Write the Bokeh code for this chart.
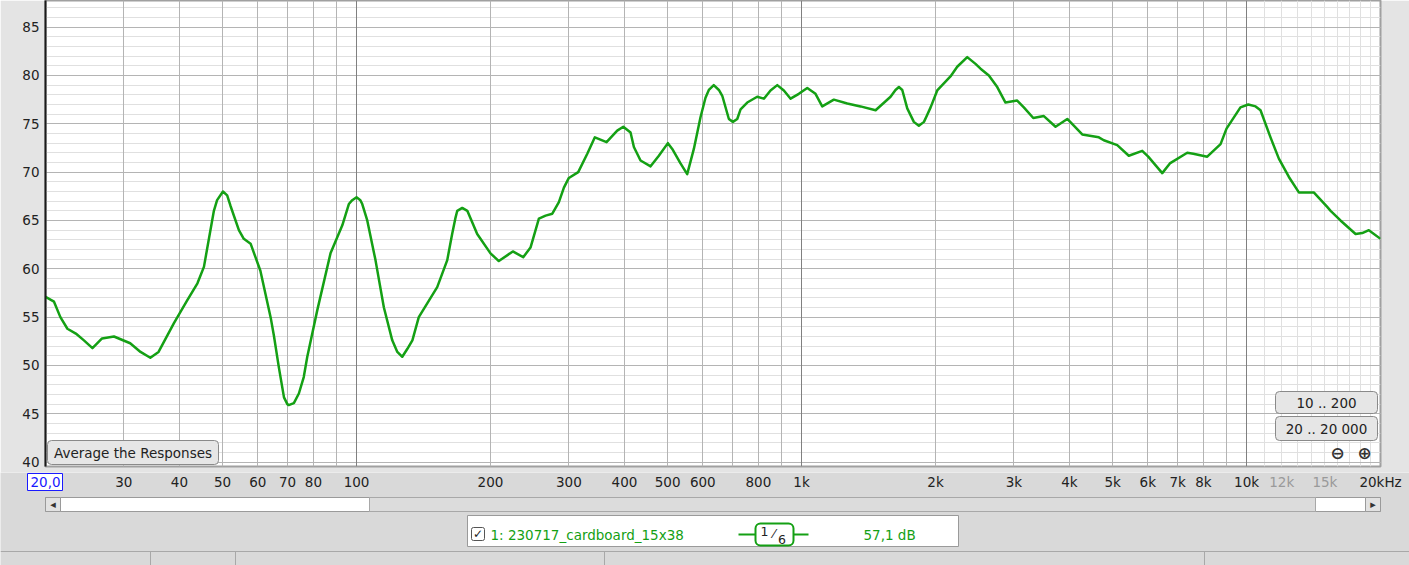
import math
from bokeh.plotting import figure
from bokeh.models import Range1d, FixedTicker, Grid, Label, BoxAnnotation, ColumnDataSource
from bokeh.layouts import column
from bokeh.core.properties import value
from bokeh.embed import file_html
from bokeh.resources import INLINE

# ---------------- data ----------------
freq = [20.0, 20.9, 21.6, 22.4, 23.4, 24.4, 25.5, 26.8, 28.5, 31.0, 32.7, 34.4, 35.9, 38.9,
        41.6, 43.9, 45.4, 47.8, 48.6, 50.1, 51.2, 52.1, 54.4, 55.8, 57.8, 60.8, 64.1, 65.2,
        66.9, 68.7, 69.9, 70.4, 72.3, 74.2, 76.1, 77.5, 81.6, 87.4, 92.9, 96.1, 97.8, 100,
        102, 103, 105.7, 110.3, 115.2, 120.3, 123.5, 126.7, 130, 133.5, 138, 151.8, 159.9,
        164, 166.9, 168.4, 172.8, 177.4, 186.7, 200, 208.8, 224.5, 236.9, 246, 256.9, 266,
        275.4, 284.9, 292.4, 300, 314.9, 330, 343.2, 364.6, 385.3, 397.6, 412.8, 420, 434.7,
        457.9, 477.9, 500.8, 512.2, 534.6, 553.4, 572.8, 593, 608.4, 619, 635, 652, 663.5,
        686.6, 700.9, 717, 729.4, 755, 795, 823, 851.7, 882, 912.6, 945, 986, 1030, 1075,
        1113, 1182, 1267, 1357, 1467, 1585, 1626, 1655, 1684, 1728, 1788, 1835, 1884, 1911,
        1950, 2018, 2161, 2238, 2357, 2460, 2525, 2636, 2753, 2873, 3052, 3159, 3317, 3504,
        3722, 3955, 4091, 4273, 4657, 4778, 5122, 5438, 5829, 6013, 6465, 6725, 7358, 7591,
        8160, 8742, 9016, 9690, 10090, 10480, 10750, 11320, 11820, 12450, 13110, 14160,
        15180, 15450, 16260, 17580, 18200, 18830, 20000]
spl_db = [57.1, 56.6, 55.0, 53.8, 53.3, 52.6, 51.8, 52.8, 53.0, 52.3, 51.4, 50.8, 51.4, 54.4,
          56.7, 58.5, 60.2, 66.0, 67.1, 68.0, 67.6, 66.5, 64.0, 63.1, 62.6, 59.8, 55.0, 53.1,
          49.8, 46.7, 46.0, 45.9, 46.1, 47.1, 48.8, 50.9, 55.7, 61.6, 64.5, 66.7, 67.1, 67.4,
          67.1, 66.7, 65.0, 60.9, 56.0, 52.6, 51.4, 50.9, 51.7, 52.6, 55.0, 58.1, 60.9,
          63.6, 65.3, 66.0, 66.3, 66.0, 63.6, 61.6, 60.8, 61.8, 61.2, 62.2, 65.2, 65.5,
          65.7, 66.9, 68.4, 69.4, 70.0, 71.9, 73.6, 73.1, 74.3, 74.7, 74.1, 72.6, 71.2,
          70.6, 71.7, 73.0, 72.4, 70.9, 69.8, 72.4, 75.7, 77.7, 78.5, 79.0, 78.5, 77.9,
          75.5, 75.2, 75.5, 76.5, 77.2, 77.8, 77.6, 78.45, 79.0, 78.45, 77.6, 78.1, 78.7, 78.1,
          76.8, 77.5, 77.1, 76.8, 76.4, 77.8, 78.5, 78.8, 78.5, 76.6, 75.2, 74.8, 75.2, 75.8,
          76.7, 78.45, 79.9, 80.9, 81.9, 81.2, 80.7, 80.0, 78.8, 77.2, 77.4, 76.7, 75.6, 75.8,
          74.7, 75.5, 74.8, 73.9, 73.6, 73.3, 72.8, 71.7, 72.2, 71.6, 69.9, 70.9, 72.0, 71.9,
          71.6, 72.9, 74.5, 76.7, 77.0, 76.8, 76.4, 73.6, 71.4, 69.5, 67.9, 67.9,
          66.4, 66.0, 65.0, 63.6, 63.7, 64.0, 63.1]

x_tick_values = [20, 30, 40, 50, 60, 70, 80, 100, 200, 300, 400, 500, 600, 800, 1000,
                 2000, 3000, 4000, 5000, 6000, 7000, 8000, 10000, 12000, 15000, 20000]
x_tick_labels = ["20,0", "30", "40", "50", "60", "70", "80", "100", "200", "300", "400",
                 "500", "600", "800", "1k", "2k", "3k", "4k", "5k", "6k", "7k", "8k", "10k",
                 "12k", "15k", "20kHz"]
y_tick_values = [40, 45, 50, 55, 60, 65, 70, 75, 80, 85]

grid_mid_freqs = [30, 40, 50, 60, 70, 80, 90, 200, 300, 400, 500, 600, 700, 800, 900,
                  2000, 3000, 4000, 5000, 6000, 7000, 8000, 9000]
grid_decades = [100, 1000, 10000]
grid_fine_freqs = [11000, 12000, 13000, 14000, 15000, 16000, 17000, 18000, 19000]
grid_db_minor = list(range(40, 89))

trace_name = "1: 230717_cardboard_15x38"
trace_level = "57,1 dB"

# ---------------- style ----------------
FONT = "DejaVu Sans"
FS = "13.5px"
GREEN = "#14a014"
BG = "#d9d9d9"
SIDE = "#e4e4e4"

W, H = 1409, 565
FRAME_L, FRAME_R, FRAME_B = 45, 1380, 466
PAD_B = 6
PX_PER_DEC = 445.0
PX_PER_DB = 9.667
Y0 = 39.55
Y1 = Y0 + FRAME_B / PX_PER_DB


def fx(px):  # page pixel -> frequency (same log scale as the chart)
    return 20 * 10 ** ((px - FRAME_L) / PX_PER_DEC)


def fy(py):  # page pixel -> dB
    return Y0 + (FRAME_B - py) / PX_PER_DB


p = figure(x_axis_type="log", x_range=Range1d(20, 20000), y_range=Range1d(Y0, Y1),
           frame_width=FRAME_R - FRAME_L, frame_height=FRAME_B, output_backend="svg",
           toolbar_location=None, x_axis_location=None,
           min_border_left=FRAME_L, min_border_right=W - FRAME_R, min_border_top=0,
           min_border_bottom=PAD_B)
p.frame_align = False
p.background_fill_color = "white"
p.border_fill_color = SIDE
p.outline_line_color = "#a0a0a0"
p.outline_line_width = 2
p.grid.visible = False


def add_grid(dim, ticks, color):
    p.add_layout(Grid(dimension=dim, ticker=FixedTicker(ticks=ticks),
                      grid_line_color=color, grid_line_width=1))


add_grid(1, grid_db_minor, "#e0e0e0")
add_grid(0, grid_fine_freqs, "#e0e0e0")
add_grid(1, y_tick_values, "#b4b4b4")
add_grid(0, grid_mid_freqs, "#b4b4b4")
add_grid(0, grid_decades, "#808080")

ya = p.yaxis[0]
ya.ticker = FixedTicker(ticks=y_tick_values)
ya.major_label_text_font = FONT
ya.major_label_text_font_size = FS
ya.major_label_text_color = "#222222"
ya.major_tick_line_color = None
ya.major_tick_out = 0
ya.major_tick_in = 0
ya.minor_tick_line_color = None
ya.minor_tick_out = 0
ya.axis_line_color = "#1a1a1a"
ya.axis_line_width = 2
ya.major_label_standoff = 6

# the measurement trace
p.line(freq, spl_db, line_color=GREEN, line_width=2.5, line_join="round")


def button(x0, x1, y0, y1, text):
    p.add_layout(BoxAnnotation(left=fx(x0), right=fx(x1), top=fy(y0), bottom=fy(y1),
                               fill_color="#e6e6e6", fill_alpha=1.0, line_color="#8a8a8a",
                               line_alpha=1.0, line_width=1, border_radius=4))
    p.add_layout(Label(x=fx((x0 + x1) / 2), y=fy((y0 + y1) / 2 + 0.5), text=text,
                       text_align="center", text_baseline="middle", text_font=FONT,
                       text_font_size=FS, text_color="#222222"))


button(47, 218, 440, 464, "Average the Responses")
button(1275, 1377, 391, 413, "10 .. 200")
button(1275, 1377, 416, 440, "20 .. 20 000")
for px, sym in [(1337, "⊖"), (1364, "⊕")]:
    p.add_layout(Label(x=fx(px), y=fy(452), text=sym, text_align="center",
                       text_baseline="middle", text_font=FONT, text_font_size="17px",
                       text_font_style="bold", text_color="#333333"))

# ---------------- bottom panel: tick labels, scrollbar, legend, status bar ----------------
QTOP = FRAME_B + PAD_B
QH = H - QTOP
q = figure(width=W, height=QH, x_axis_type="log", x_range=Range1d(fx(0), fx(W)),
           y_range=Range1d(QH, 0), output_backend="svg", toolbar_location=None,
           x_axis_location=None, y_axis_location=None, min_border=0)
q.frame_align = False
q.outline_line_color = None
q.background_fill_color = BG
q.border_fill_color = BG
q.grid.visible = False


def T(py):
    return py - QTOP


# x tick labels (same log scale as the chart)
colors = []
for t in x_tick_values:
    if t == 20:
        colors.append("#1a1aff")
    elif t in (12000, 15000):
        colors.append("#9a9a9a")
    else:
        colors.append("#222222")
q.quad(left=[fx(27)], right=[fx(62)], top=[T(473)], bottom=[T(490)], fill_color="white",
       line_color="#1a1aff", line_width=1)
tick_src = ColumnDataSource(dict(x=x_tick_values, y=[T(481.5)] * len(x_tick_values),
                                 text=x_tick_labels, color=colors))
q.text(x="x", y="y", text="text", text_color="color", source=tick_src, text_align="center",
       text_baseline="middle", text_font=value(FONT), text_font_size=value(FS))

# scrollbar
q.quad(left=[fx(45)], right=[fx(1380)], top=[T(497)], bottom=[T(511)], fill_color="white",
       line_color="#9a9a9a")
q.quad(left=[fx(369)], right=[fx(1315)], top=[T(497)], bottom=[T(511)], fill_color="#dcdcdc",
       line_color="#a8a8a8")
q.quad(left=[fx(45), fx(1365)], right=[fx(60), fx(1380)], top=[T(497)] * 2,
       bottom=[T(511)] * 2, fill_color="#e2e2e2", line_color="#9a9a9a")
q.text(x=[fx(52.5), fx(1372.5)], y=[T(504)] * 2, text=["◂", "▸"], text_align="center",
       text_baseline="middle", text_font=value(FONT), text_font_size="11px", text_color="#333333")

# legend box
q.quad(left=[fx(467)], right=[fx(958)], top=[T(515)], bottom=[T(546)], fill_color="white",
       line_color="#9a9a9a")
q.quad(left=[fx(471)], right=[fx(484)], top=[T(527)], bottom=[T(540)], fill_color="white",
       line_color="#555555", border_radius=2)
q.text(x=[fx(477.5)], y=[T(533.5)], text=["✓"], text_align="center", text_baseline="middle",
       text_font=value(FONT), text_font_size="12px", text_font_style="bold", text_color="#222222")
q.text(x=[fx(490)], y=[T(534)], text=[trace_name], text_align="left", text_baseline="middle",
       text_font=value(FONT), text_font_size=value(FS), text_color=GREEN)
q.segment(x0=[fx(738)], y0=[T(534)], x1=[fx(808)], y1=[T(534)], line_color=GREEN, line_width=2)
q.quad(left=[fx(755)], right=[fx(793)], top=[T(523)], bottom=[T(545)], fill_color="white",
       line_color=GREEN, line_width=2, border_radius=5)
q.text(x=[fx(764), fx(773.5), fx(781.5)], y=[T(531), T(533), T(538.5)], text=["1", "⁄", "6"],
       text_align="center", text_baseline="middle", text_font=value(FONT),
       text_font_size="12.5px", text_color="#222222")
q.text(x=[fx(863)], y=[T(534)], text=[trace_level], text_align="left", text_baseline="middle",
       text_font=value(FONT), text_font_size=value(FS), text_color=GREEN)

# status bar
q.segment(x0=[fx(0)], y0=[T(551)], x1=[fx(W)], y1=[T(551)], line_color="#a8a8a8", line_width=1)
sep = [150, 235, 604, 1204]
q.segment(x0=[fx(v) for v in sep], y0=[T(551)] * 4, x1=[fx(v) for v in sep], y1=[QH] * 4,
          line_color="#a8a8a8")

layout = column(p, q, spacing=0)
open("out.html", "w").write(file_html(layout, INLINE))
